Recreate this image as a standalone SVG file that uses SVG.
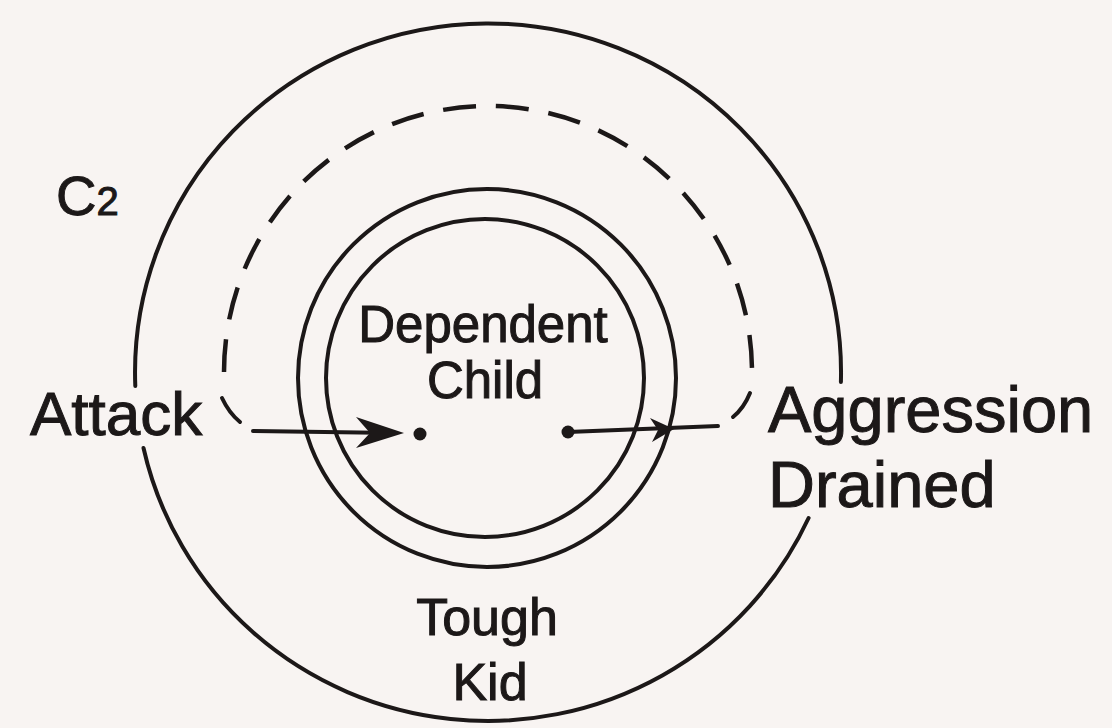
<svg xmlns="http://www.w3.org/2000/svg" width="1112" height="728" viewBox="0 0 1112 728">
  <style>
    .ln { fill: none; stroke: #1c1818; stroke-width: 4; stroke-linecap: round; }
    .dash { fill: none; stroke: #1c1818; stroke-width: 4.5; stroke-dasharray: 33 20; }
    .t { font-family: "Liberation Sans", Arial, sans-serif; fill: #1c1818; stroke: #1c1818; stroke-width: 1; }
    .head { fill: #1c1818; }
  </style>
  <rect width="1112" height="728" fill="#f8f4f2"/>

  <g id="outer-circle">
    <path class="ln" d="M 840.9 382 A 353 349 0 1 0 135.3 386"/>
    <path class="ln" d="M 143.5 448 A 353 349 0 0 0 808.6 518"/>
  </g>

  <g id="dashed-boundary">
    <path class="dash" d="M 224 372 A 264 266 0 0 1 752 372"/>
    <path class="ln" stroke-width="4.5" d="M 222 398 Q 229 413 240 422"/>
    <path class="ln" stroke-width="4.5" d="M 750 393 Q 744 408 733 417"/>
  </g>

  <g id="tough-kid-ring">
    <circle class="ln" cx="487" cy="378" r="189"/>
  </g>

  <g id="dependent-child">
    <circle class="ln" cx="485" cy="378" r="159"/>
    <text class="t" x="483" y="342" font-size="51" text-anchor="middle">Dependent</text>
    <text class="t" x="485" y="398" font-size="51" text-anchor="middle">Child</text>
  </g>

  <g id="connectors">
    <path class="ln" d="M 253 431 L 395 433"/>
    <polygon class="head" points="356,417 404,433 356,448 370,433"/>
    <circle class="head" cx="420" cy="434" r="6.5"/>
    <path class="ln" d="M 568 432 L 718 426"/>
    <polygon class="head" points="650,418 674,429 652,442 658,430"/>
    <circle class="head" cx="568" cy="432" r="6.5"/>
  </g>

  <g id="label-c2">
    <text class="t" x="56" y="215" font-size="56">C<tspan font-size="40">2</tspan></text>
  </g>
  <g id="label-attack">
    <text class="t" x="30" y="435" font-size="62">Attack</text>
  </g>
  <g id="label-aggression">
    <text class="t" x="768" y="432" font-size="65">Aggression</text>
    <text class="t" x="768" y="507" font-size="65">Drained</text>
  </g>
  <g id="label-tough-kid">
    <text class="t" x="487" y="635" font-size="52" text-anchor="middle">Tough</text>
    <text class="t" x="490" y="700" font-size="52" text-anchor="middle">Kid</text>
  </g>
</svg>
